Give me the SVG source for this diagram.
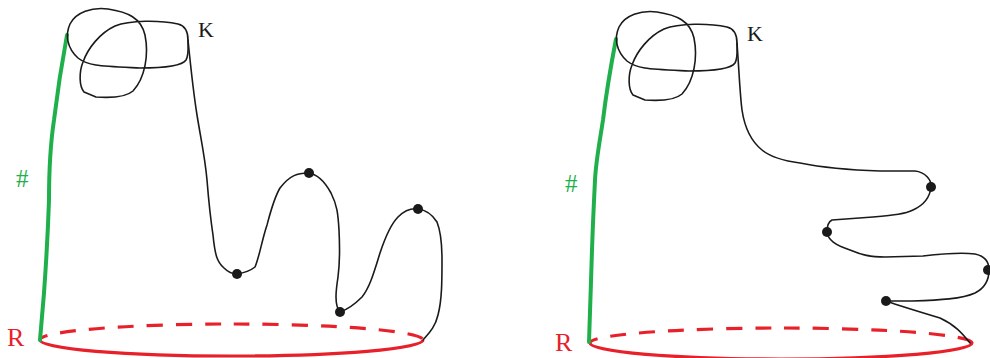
<svg xmlns="http://www.w3.org/2000/svg" width="990" height="358" viewBox="0 0 990 358">
<style>
.k{fill:none;stroke:#1a1a1a;stroke-width:1.6;stroke-linejoin:round;stroke-linecap:round}
.g{fill:none;stroke:#1fb04b;stroke-width:4;stroke-linecap:round}
.rd{fill:none;stroke:#e8202a;stroke-width:3.2;stroke-dasharray:16 13}
.rs{fill:none;stroke:#e8202a;stroke-width:3.2}
.dot{fill:#1a1a1a}
.lbl{font-family:"Liberation Serif","DejaVu Serif",serif}
</style>
<rect width="990" height="358" fill="#fff"/>
<g id="left">
  <path class="rd" d="M40,340 A191.5,16 0 0 1 423,340" stroke-dashoffset="-22"/>
  <path class="rs" d="M40,340 A191.5,16 0 0 0 423,340"/>
  <path class="g" d="M67,35 C62,62 57,95 54,120 C51,140 49,170 49,200 C48,230 46,265 44,293 C42,315 41,328 40,340"/>
  <path class="k" d="M188,40 C188,32 186,26 178,24 C160,20 130,20 115,26 C100,33 88,48 83,62 C79,72 79,86 84,92 L96,97 C110,98 125,98 133,91 C145,78 149,55 145,35 C141,18 128,12 108,9 C92,7 76,12 70,24 C65,35 67,48 78,58 C88,66 100,66 140,68 C165,68 182,66 186,60 C189,55 188,47 188,40 Z"/>
  <path class="k" d="M188,40 C190,60 193,90 197,115 C201,140 205,157 207,180 C209,205 210,215 213,235 C215,255 217,262 224,268 C229,273 233,274 237,274 C244,273 250,271 255,267 C259,258 262,240 267,225 C271,210 274,198 280,188 C290,175 298,173 308,173 C318,174 325,182 331,193 C337,205 338,213 339,230 C340,250 340,262 338,277 C336,290 334,305 340,312 C346,310 354,305 362,297 C370,287 374,272 380,253 C385,238 390,225 398,217 C405,210 411,208 418,209 C426,210 432,214 437,222 C441,232 442,245 442,260 C442,280 442,300 438,315 C435,328 428,334 423,340"/>
  <circle class="dot" cx="237" cy="274" r="5"/>
  <circle class="dot" cx="309" cy="173" r="5"/>
  <circle class="dot" cx="340" cy="312" r="5"/>
  <circle class="dot" cx="418" cy="209" r="5"/>
  <text class="lbl" x="198" y="37" font-size="22" fill="#1a1a1a">K</text>
  <text class="lbl" x="7" y="346" font-size="26" fill="#e8202a">R</text>
  <text class="lbl" x="16" y="187" font-size="25" fill="#1fb04b">#</text>
</g>
<g id="right">
  <path class="rd" d="M590,343 A191,15 0 0 1 972,343" stroke-dashoffset="-22"/>
  <path class="rs" d="M590,343 A191,16 0 0 0 972,343"/>
  <path class="g" d="M616,39 C611,65 606,95 603,120 C600,140 596,160 595,180 C594,200 593,220 592,250 C591,280 590,315 589,342"/>
  <path class="k" transform="translate(549,3)" d="M188,40 C188,32 186,26 178,24 C160,20 130,20 115,26 C100,33 88,48 83,62 C79,72 79,86 84,92 L96,97 C110,98 125,98 133,91 C145,78 149,55 145,35 C141,18 128,12 108,9 C92,7 76,12 70,24 C65,35 67,48 78,58 C88,66 100,66 140,68 C165,68 182,66 186,60 C189,55 188,47 188,40 Z"/>
  <path class="k" d="M737,43 C739,70 740,95 742,110 C745,130 752,142 762,150 C772,158 785,161 800,163 C820,167 850,170 880,171 L915,171 C925,172 932,180 931,187 C930,197 924,205 913,210 C905,214 895,215 873,217 L832,220 C828,222 827,228 827,232 C828,240 835,245 850,250 C862,255 870,257 885,257 L923,256 C940,254 960,252 975,254 C985,256 989,262 989,270 C989,280 985,288 975,293 C962,299 940,300 912,301 L886,301 C900,306 920,312 940,318 C955,325 962,333 970,343"/>
  <circle class="dot" cx="931" cy="187" r="5"/>
  <circle class="dot" cx="827" cy="232" r="5"/>
  <circle class="dot" cx="988" cy="270" r="5"/>
  <circle class="dot" cx="886" cy="301" r="5"/>
  <text class="lbl" x="747" y="41" font-size="22" fill="#1a1a1a">K</text>
  <text class="lbl" x="555" y="351" font-size="26" fill="#e8202a">R</text>
  <text class="lbl" x="565" y="192" font-size="25" fill="#1fb04b">#</text>
</g>
</svg>
